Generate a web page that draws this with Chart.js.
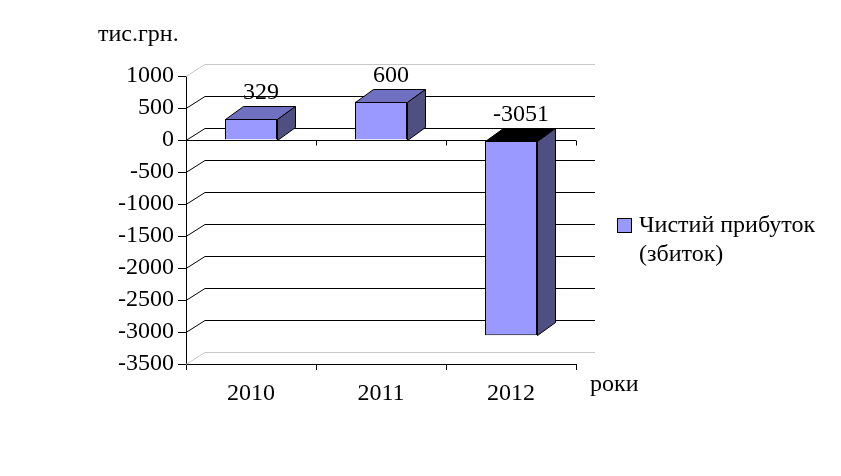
<!DOCTYPE html>
<html lang="uk">
<head>
    <meta charset="UTF-8">
    <title>Чистий прибуток (збиток)</title>
    <script src="https://cdn.jsdelivr.net/npm/chart.js@4.4.0/dist/chart.umd.min.js"></script>
    <style>
        body { margin: 0; background: #ffffff; }
        #wrap { width: 841px; height: 476px; position: relative; }
    </style>
</head>
<body>
    <div id="wrap"><canvas id="chart" width="841" height="476"></canvas></div>

    <script>
        const years = ['2010', '2011', '2012'];
        const profit = [329, 600, -3051];
        const seriesName = ['Чистий прибуток', '(збиток)'];
        const yUnit = 'тис.грн.';
        const xUnit = 'роки';

        const FONT = '"Liberation Serif", "Times New Roman", serif';
        const FSIZE = 24;
        const DX = 18, DY = -13;      // bar depth
        const WDX = 19, WDY = -12;    // back wall offset

        const depthPlugin = {
            id: 'depth',
            beforeDatasetsDraw(chart) {
                const ctx = chart.ctx;
                const y = chart.scales.y;
                const left = chart.chartArea.left, right = chart.chartArea.right;
                ctx.save();
                ctx.lineWidth = 1;
                y.ticks.forEach((t, i) => {
                    const py = Math.round(y.getPixelForValue(t.value)) + 0.5;
                    const edge = (i === 0 || i === y.ticks.length - 1);
                    ctx.strokeStyle = edge ? '#c8c8c8' : '#000000';
                    ctx.beginPath();
                    ctx.moveTo(left, py);
                    ctx.lineTo(left + WDX, py + WDY);
                    ctx.lineTo(right + WDX, py + WDY);
                    ctx.stroke();
                });
                // front zero line with category ticks
                const y0 = Math.round(y.getPixelForValue(0)) + 0.5;
                ctx.strokeStyle = '#000000';
                ctx.beginPath();
                ctx.moveTo(left, y0);
                ctx.lineTo(right, y0);
                for (let i = 1; i <= years.length; i++) {
                    const px = Math.round(left + (right - left) * i / years.length) + 0.5;
                    ctx.moveTo(px, y0);
                    ctx.lineTo(px, y0 + 5);
                }
                ctx.stroke();
                ctx.restore();
            },
            afterDatasetsDraw(chart) {
                const ctx = chart.ctx;
                const meta = chart.getDatasetMeta(0);
                ctx.save();
                ctx.lineWidth = 1;
                ctx.strokeStyle = '#000000';
                meta.data.forEach((bar, i) => {
                    const l = Math.round(bar.x - bar.width / 2) + 0.5;
                    const r = Math.round(bar.x + bar.width / 2) + 0.5;
                    const top = Math.round(Math.min(bar.y, bar.base)) + 0.5;
                    const bot = Math.round(Math.max(bar.y, bar.base)) + 0.5;
                    // top face
                    ctx.fillStyle = profit[i] < 0 ? '#000000' : '#7070c0';
                    ctx.beginPath();
                    ctx.moveTo(l, top);
                    ctx.lineTo(l + DX, top + DY);
                    ctx.lineTo(r + DX, top + DY);
                    ctx.lineTo(r, top);
                    ctx.closePath();
                    ctx.fill();
                    ctx.stroke();
                    // side face
                    ctx.fillStyle = '#4f4f82';
                    ctx.beginPath();
                    ctx.moveTo(r, top);
                    ctx.lineTo(r + DX, top + DY);
                    ctx.lineTo(r + DX, bot + DY);
                    ctx.lineTo(r, bot);
                    ctx.closePath();
                    ctx.fill();
                    ctx.stroke();
                    // value label
                    ctx.fillStyle = '#000000';
                    ctx.font = FSIZE + 'px ' + FONT;
                    ctx.textAlign = 'center';
                    ctx.textBaseline = 'middle';
                    ctx.fillText(String(profit[i]), bar.x + DX / 2 + 1, top + DY - 14);
                });

                // axis titles
                ctx.textAlign = 'left';
                ctx.textBaseline = 'middle';
                ctx.font = FSIZE + 'px ' + FONT;
                ctx.fillText(yUnit, 98, 35);
                ctx.fillText(xUnit, 590, 385);

                // legend
                ctx.fillStyle = '#9999ff';
                ctx.fillRect(617.5, 218.5, 14, 14);
                ctx.strokeRect(617.5, 218.5, 14, 14);
                ctx.fillStyle = '#000000';
                ctx.fillText(seriesName[0], 639, 226);
                ctx.fillText(seriesName[1], 639, 255);
                ctx.restore();
            }
        };

        new Chart(document.getElementById('chart'), {
            type: 'bar',
            data: {
                labels: years,
                datasets: [{
                    label: seriesName.join(' '),
                    data: profit,
                    backgroundColor: '#9999ff',
                    borderColor: '#000000',
                    borderWidth: 1,
                    categoryPercentage: 1,
                    barPercentage: 0.4
                }]
            },
            options: {
                responsive: false,
                animation: false,
                layout: { padding: { left: 0, right: 265, top: 76, bottom: 0 } },
                plugins: { legend: { display: false }, tooltip: { enabled: false } },
                scales: {
                    x: {
                        afterFit: s => { s.height = 112; },
                        grid: { drawOnChartArea: false, tickLength: 6, color: '#000000', offset: true },
                        border: { color: '#000000' },
                        ticks: { color: '#000000', font: { family: FONT, size: FSIZE }, padding: 9 }
                    },
                    y: {
                        min: -3500,
                        max: 1000,
                        afterFit: s => { s.width = 186; },
                        grid: { drawOnChartArea: false, tickLength: 8, color: '#000000' },
                        border: { color: '#000000' },
                        ticks: {
                            stepSize: 500,
                            color: '#000000',
                            font: { family: FONT, size: FSIZE },
                            padding: 4,
                            callback: v => String(v)
                        }
                    }
                }
            },
            plugins: [depthPlugin]
        });
    </script>
</body>
</html>
